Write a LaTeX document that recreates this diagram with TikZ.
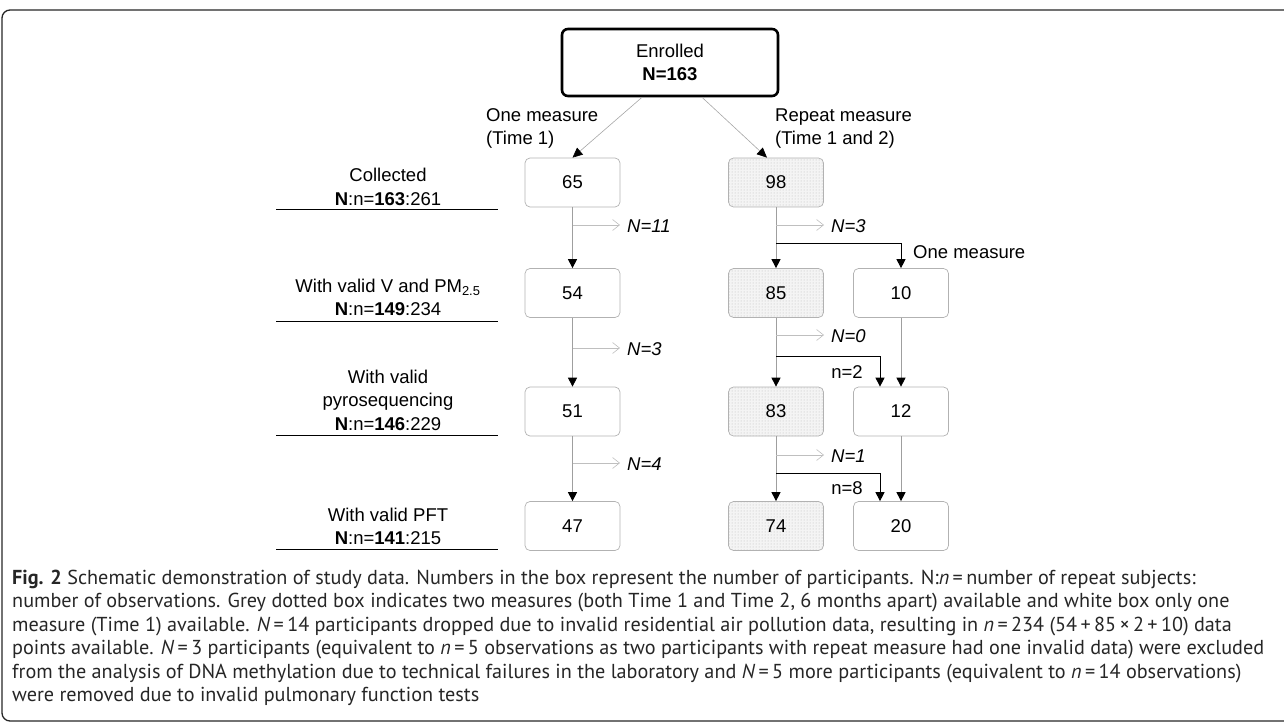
\documentclass[tikz,border=0pt]{standalone}
\usepackage{fontspec}
\setmainfont{Liberation Sans}
\newfontfamily\capfont{PT Sans}
\usetikzlibrary{arrows.meta,calc,patterns}
\newcommand{\labfont}{\fontsize{18.5}{23.5}\selectfont}
\newcommand{\capsize}{\capfont\fontsize{20.2}{23.5}\selectfont}
\tikzset{
  numbox/.style={draw=gray!60, line width=0.7pt, rounded corners=5pt, minimum width=95pt, minimum height=49pt, inner sep=0pt, font=\labfont},
  repbox/.style={numbox, preaction={fill=gray!9}, pattern=dots, pattern color=gray!55},
  startbox/.style={draw=black, line width=2.6pt, rounded corners=6pt, minimum width=216pt, minimum height=67pt, inner sep=0pt, align=center, font=\labfont},
  flow/.style={draw=gray!75, line width=0.8pt, -{Triangle[length=9pt,width=9pt,color=black]}},
  diag/.style={draw=gray!70, line width=0.6pt, -{Triangle[length=10pt,width=9pt,color=black]}},
  branch/.style={draw=black, line width=0.9pt, -{Triangle[length=9pt,width=9pt,color=black]}},
  excl/.style={draw=gray!50, line width=0.6pt, -{Straight Barb[length=7pt,width=11pt,line width=0.6pt]}},
  excltext/.style={anchor=west, font=\labfont\itshape, inner sep=0pt},
  sidelab/.style={align=center, font=\labfont, inner sep=0pt},
  small/.style={font=\labfont, inner sep=0pt},
  capline/.style={anchor=base west, inner sep=0pt, font=\capsize, text=black!85}
}
\begin{document}
\begin{tikzpicture}[x=1pt,y=-1pt]
\useasboundingbox (0,0) rectangle (1284,727);
% frame
\draw[line width=1.3pt, black!85, rounded corners=8pt] (1290,10) -- (2,10) -- (2,721) -- (1290,721);

% enrolled
\node[startbox] (enr) at (670,62.5) {Enrolled\\\textbf{N=163}};
\node[anchor=west, align=left, small] (one) at (486,128.5) {One measure\\(Time 1)};
\node[anchor=west, align=left, small] (rep) at (775,128.5) {Repeat measure\\(Time 1 and 2)};

% boxes
\node[numbox] (c65) at (572.5,182.5) {65};
\node[repbox] (c98) at (776,182.5) {98};
\node[numbox] (c54) at (572.5,293) {54};
\node[repbox] (c85) at (776,293) {85};
\node[numbox] (c10) at (901,293) {10};
\node[numbox] (c51) at (572.5,411.5) {51};
\node[repbox] (c83) at (776,411.5) {83};
\node[numbox] (c12) at (901,411.5) {12};
\node[numbox] (c47) at (572.5,526) {47};
\node[repbox] (c74) at (776,526) {74};
\node[numbox] (c20) at (901,526) {20};

% from enrolled
\draw[diag] ([xshift=-28pt]enr.south) -- (c65.north);
\draw[diag] ([xshift=32pt]enr.south) -- ([xshift=-9pt]c98.north);

% column 1
\draw[flow] (c65) -- (c54);
\draw[flow] (c54) -- (c51);
\draw[flow] (c51) -- (c47);
% column 2
\draw[flow] (c98) -- (c85);
\draw[flow] (c85) -- (c83);
\draw[flow] (c83) -- (c74);
% column 3
\draw[flow] (c10) -- (c12);
\draw[flow] (c12) -- (c20);

% branches
\coordinate (b1) at (776,243);
\coordinate (b2) at (776,356);
\coordinate (b3) at (776,473);
\draw[branch] (b1) -| (c10.north);
\draw[branch] (b2) -| ([xshift=-21pt]c12.north);
\draw[branch] (b3) -| ([xshift=-21pt]c20.north);
\node[anchor=west, small] (om) at (913,252) {One measure};
\node[small] (n2) at (847,372) {n=2};
\node[small] (n8) at (847,488) {n=8};

% exclusions column 1
\coordinate (e1s) at (572.5,225); \coordinate (e1e) at (620,225);
\draw[excl] (e1s) -- (e1e); \node[excltext] (x1) at (627,226) {N=11};
\coordinate (e2s) at (572.5,348); \coordinate (e2e) at (620,348);
\draw[excl] (e2s) -- (e2e); \node[excltext] (x2) at (627,349) {N=3};
\coordinate (e3s) at (572.5,463); \coordinate (e3e) at (620,463);
\draw[excl] (e3s) -- (e3e); \node[excltext] (x3) at (627,464) {N=4};
% exclusions column 2
\coordinate (f1s) at (776,225); \coordinate (f1e) at (824,225);
\draw[excl] (f1s) -- (f1e); \node[excltext] (y1) at (831,226) {N=3};
\coordinate (f2s) at (776,335); \coordinate (f2e) at (824,335);
\draw[excl] (f2s) -- (f2e); \node[excltext] (y2) at (831,336) {N=0};
\coordinate (f3s) at (776,455); \coordinate (f3e) at (824,455);
\draw[excl] (f3s) -- (f3e); \node[excltext] (y3) at (831,456) {N=1};

% side labels
\node[sidelab] (l1) at (388,187) {Collected\\\textbf{N}:n=\textbf{163}:261};
\draw[line width=1pt] (276,210) -- (498,210);
\node[sidelab] (l2) at (388,297.5) {With valid V and PM\textsubscript{2.5}\\\textbf{N}:n=\textbf{149}:234};
\draw[line width=1pt] (276,321) -- (498,321);
\node[sidelab] (l3) at (388,400) {With valid\\pyrosequencing\\\textbf{N}:n=\textbf{146}:229};
\draw[line width=1pt] (276,435) -- (498,435);
\node[sidelab] (l4) at (388,526.5) {With valid PFT\\\textbf{N}:n=\textbf{141}:215};
\draw[line width=1pt] (276,549) -- (498,549);

% caption
\node[capline] (cap1) at (12,584) {\textbf{Fig. 2} Schematic demonstration of study data. Numbers in the box represent the number of participants. N:\textit{n}\,=\,number of repeat subjects:};
\node[capline] (cap2) at (12,607.5) {number of observations. Grey dotted box indicates two measures (both Time 1 and Time 2, 6 months apart) available and white box only one};
\node[capline] (cap3) at (12,631) {measure (Time 1) available. \textit{N}\,=\,14 participants dropped due to invalid residential air pollution data, resulting in \textit{n}\,=\,234 (54\,+\,85\,×\,2\,+\,10) data};
\node[capline] (cap4) at (12,654.5) {points available. \textit{N}\,=\,3 participants (equivalent to \textit{n}\,=\,5 observations as two participants with repeat measure had one invalid data) were excluded};
\node[capline] (cap5) at (12,678) {from the analysis of DNA methylation due to technical failures in the laboratory and \textit{N}\,=\,5 more participants (equivalent to \textit{n}\,=\,14 observations)};
\node[capline] (cap6) at (12,701.5) {were removed due to invalid pulmonary function tests};
\end{tikzpicture}
\end{document}
